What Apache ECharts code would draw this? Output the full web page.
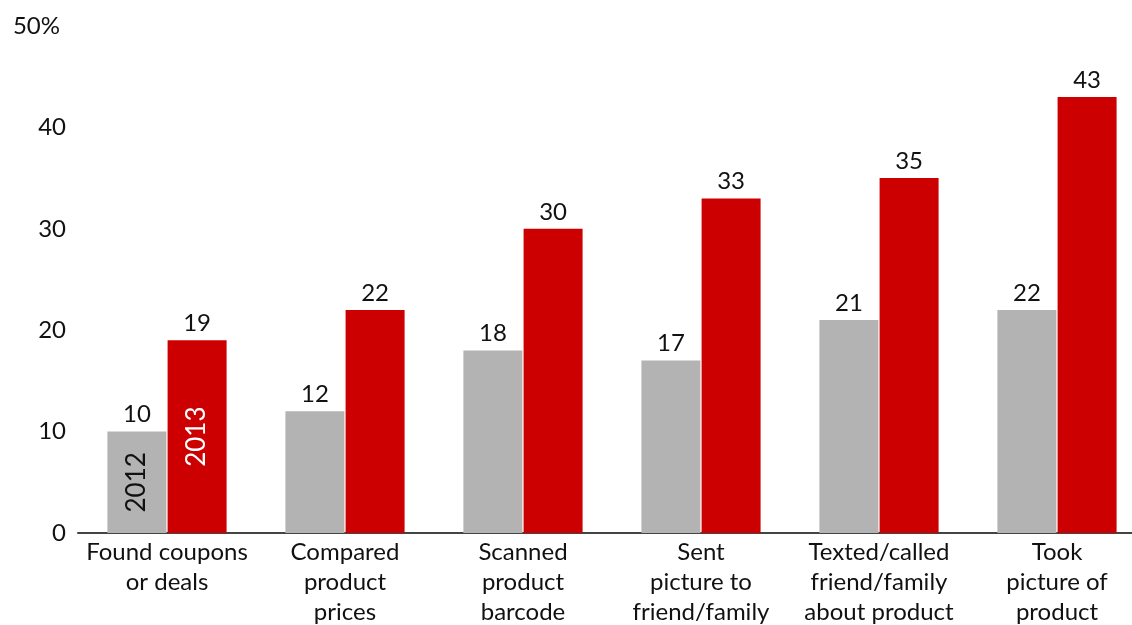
<!DOCTYPE html>
<html>
<head>
<meta charset="utf-8">
<script src="https://cdn.jsdelivr.net/npm/echarts@6/dist/echarts.min.js"></script>
<style>
  html, body { margin: 0; padding: 0; background: #fff; }
  #chart { width: 1132px; height: 625px; }
</style>
</head>
<body>
<div id="chart"></div>
<script>
// Share of shoppers using a phone in store, by activity
const categories = [
  'Found coupons\nor deals',
  'Compared\nproduct\nprices',
  'Scanned\nproduct\nbarcode',
  'Sent\npicture to\nfriend/family',
  'Texted/called\nfriend/family\nabout product',
  'Took\npicture of\nproduct'
];
const values2012 = [10, 12, 18, 17, 21, 22];
const values2013 = [19, 22, 30, 33, 35, 43];
const yTicks = [0, 10, 20, 30, 40, 50];

const FONT = 'Lato, "Noto Sans", sans-serif';
const TEXT = '#111';
const SIZE = 24;

const chart = echarts.init(document.getElementById('chart'), null, { renderer: 'canvas' });

function yearMark(label, values, color) {
  return {
    symbol: 'rect',
    symbolSize: 1,
    silent: true,
    itemStyle: { color: 'transparent' },
    label: {
      show: true,
      position: 'inside',
      formatter: label,
      rotate: 90,
      color: color,
      fontSize: 26,
      fontFamily: FONT
    },
    data: [{ coord: [0, values[0] / 2] }]
  };
}

function valueLabel() {
  return {
    show: true,
    position: 'top',
    distance: 5,
    color: TEXT,
    fontSize: SIZE,
    fontFamily: FONT
  };
}

chart.setOption({
  animation: false,
  backgroundColor: '#fff',
  grid: {
    left: 78, top: 26, width: 1068, height: 507,
    containLabel: false,
    outerBoundsMode: 'none'
  },
  xAxis: {
    type: 'category',
    data: categories,
    axisTick: { show: false },
    axisLine: { lineStyle: { color: '#444', width: 2 } },
    axisLabel: {
      interval: 0,
      margin: 4,
      color: TEXT,
      fontSize: SIZE,
      lineHeight: 30,
      fontFamily: FONT
    }
  },
  yAxis: {
    type: 'value',
    min: yTicks[0],
    max: yTicks[yTicks.length - 1],
    interval: 10,
    splitLine: { show: false },
    axisLine: { show: false },
    axisTick: { show: false },
    axisLabel: {
      margin: 12,
      color: TEXT,
      fontSize: SIZE,
      fontFamily: FONT,
      formatter: v => v === yTicks[yTicks.length - 1] ? '{top|' + v + '%}' : String(v),
      rich: {
        top: { fontSize: SIZE, fontFamily: FONT, color: TEXT, padding: [0, 6, 0, 0] }
      }
    }
  },
  series: [
    {
      name: '2012',
      type: 'bar',
      data: values2012,
      barWidth: 59,
      barGap: '2%',
      itemStyle: { color: '#b3b3b3' },
      label: valueLabel(),
      markPoint: yearMark('2012', values2012, '#111')
    },
    {
      name: '2013',
      type: 'bar',
      data: values2013,
      barWidth: 59,
      barGap: '2%',
      itemStyle: { color: '#cc0000' },
      label: valueLabel(),
      markPoint: yearMark('2013', values2013, '#fff')
    }
  ]
});
</script>
</body>
</html>
